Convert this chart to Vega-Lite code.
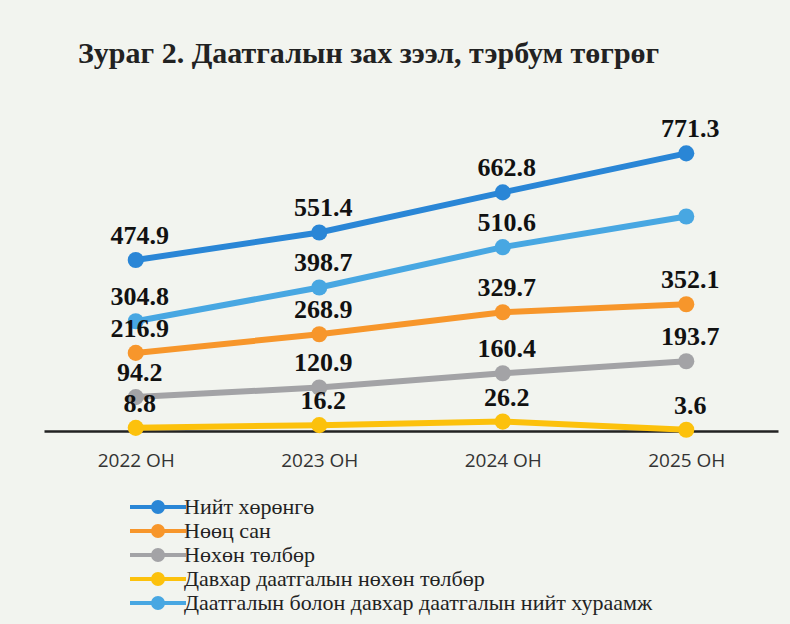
{
  "$schema": "https://vega.github.io/schema/vega-lite/v6.json",
  "width": 734,
  "height": 306,
  "autosize": {"type": "none"},
  "padding": {"left": 44, "top": 125, "right": 12, "bottom": 193},
  "background": "#f2f4ef",
  "title": {
    "text": "Зураг 2. Даатгалын зах зээл, тэрбум төгрөг",
    "anchor": "start",
    "dx": 34,
    "offset": 47,
    "font": "Liberation Serif",
    "fontSize": 30,
    "fontWeight": "bold",
    "color": "#222222"
  },
  "config": {
    "view": {"stroke": null},
    "axis": {"grid": false}
  },
  "data": {
    "values": [
      {"year": "2022 ОН", "series": "Нийт хөрөнгө", "value": 474.9},
      {"year": "2023 ОН", "series": "Нийт хөрөнгө", "value": 551.4},
      {"year": "2024 ОН", "series": "Нийт хөрөнгө", "value": 662.8},
      {"year": "2025 ОН", "series": "Нийт хөрөнгө", "value": 771.3},
      {"year": "2022 ОН", "series": "Нөөц сан", "value": 216.9},
      {"year": "2023 ОН", "series": "Нөөц сан", "value": 268.9},
      {"year": "2024 ОН", "series": "Нөөц сан", "value": 329.7},
      {"year": "2025 ОН", "series": "Нөөц сан", "value": 352.1},
      {"year": "2022 ОН", "series": "Нөхөн төлбөр", "value": 94.2},
      {"year": "2023 ОН", "series": "Нөхөн төлбөр", "value": 120.9},
      {"year": "2024 ОН", "series": "Нөхөн төлбөр", "value": 160.4},
      {"year": "2025 ОН", "series": "Нөхөн төлбөр", "value": 193.7},
      {"year": "2022 ОН", "series": "Давхар даатгалын нөхөн төлбөр", "value": 8.8},
      {"year": "2023 ОН", "series": "Давхар даатгалын нөхөн төлбөр", "value": 16.2},
      {"year": "2024 ОН", "series": "Давхар даатгалын нөхөн төлбөр", "value": 26.2},
      {"year": "2025 ОН", "series": "Давхар даатгалын нөхөн төлбөр", "value": 3.6},
      {"year": "2022 ОН", "series": "Даатгалын болон давхар даатгалын нийт хураамж", "value": 304.8},
      {"year": "2023 ОН", "series": "Даатгалын болон давхар даатгалын нийт хураамж", "value": 398.7},
      {"year": "2024 ОН", "series": "Даатгалын болон давхар даатгалын нийт хураамж", "value": 510.6},
      {"year": "2025 ОН", "series": "Даатгалын болон давхар даатгалын нийт хураамж", "value": 596, "nolabel": true}
    ]
  },
  "encoding": {
    "x": {
      "field": "year",
      "type": "ordinal",
      "scale": {"type": "point", "padding": 0.5},
      "axis": {
        "title": null,
        "ticks": false,
        "domainColor": "#222222",
        "domainWidth": 2.5,
        "labelAngle": 0,
        "labelFont": "Open Sans",
        "labelFontSize": 19,
        "labelColor": "#333333",
        "labelPadding": 20
      }
    },
    "y": {
      "field": "value",
      "type": "quantitative",
      "scale": {"domain": [0, 850]},
      "axis": null
    }
  },
  "layer": [
    {
      "mark": {"type": "line", "strokeWidth": 6},
      "encoding": {
        "color": {
          "field": "series",
          "type": "nominal",
          "scale": {
            "domain": ["Нийт хөрөнгө", "Нөөц сан", "Нөхөн төлбөр", "Давхар даатгалын нөхөн төлбөр", "Даатгалын болон давхар даатгалын нийт хураамж"],
            "range": ["#2a86d6", "#f7962b", "#a3a3a6", "#fcc10c", "#48a7e2"]
          },
          "legend": {
            "title": null,
            "orient": "none",
            "legendX": 103,
            "legendY": 371,
            "direction": "vertical",
            "symbolType": "M-5.6,0L5.6,0M1,0A1,1,0,1,1,-1,0A1,1,0,1,1,1,0Z",
            "symbolSize": 100,
            "symbolStrokeWidth": 4,
            "labelFont": "Liberation Serif",
            "labelFontSize": 22,
            "labelColor": "#222222",
            "labelOffset": 15,
            "rowPadding": -8,
            "labelLimit": 700,
            "encode": {
              "symbols": {
                "update": {
                  "fill": {"scale": "color", "field": "value"},
                  "stroke": {"scale": "color", "field": "value"},
                  "opacity": {"value": 1}
                }
              },
              "labels": {
                "update": {
                  "font": {"value": "Liberation Serif"}
                }
              }
            }
          }
        }
      }
    },
    {
      "mark": {"type": "point", "filled": true, "size": 260, "opacity": 1},
      "encoding": {
        "color": {"field": "series", "type": "nominal", "legend": null}
      }
    },
    {
      "transform": [{"filter": "!datum.nolabel"}],
      "mark": {
        "type": "text",
        "font": "Liberation Serif",
        "fontWeight": "bold",
        "fontSize": 26,
        "dy": -24,
        "dx": 4,
        "baseline": "middle",
        "color": "#111111"
      },
      "encoding": {
        "text": {"field": "value", "type": "quantitative", "format": ".1f"}
      }
    }
  ]
}
